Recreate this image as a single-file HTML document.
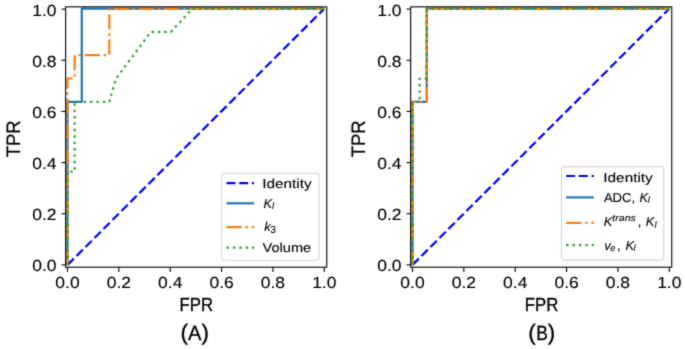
<!DOCTYPE html>
<html><head><meta charset="utf-8"><style>
html,body{margin:0;padding:0;background:#fff;}
svg{display:block;}
text{font-family:"Liberation Sans",sans-serif;fill:#000;text-rendering:geometricPrecision;stroke:#000;stroke-width:0.12px;}
.tk{font-size:16px;}
.lg{font-size:12.9px;}
.sub{font-size:9.2px;}
.sub3{font-size:10.2px;}
.sup{font-size:9.2px;}
.it{font-style:italic;}
.al{font-size:18.9px;stroke-width:0.35px;}
.al2{font-size:19.5px;stroke-width:0.25px;}
.pl{font-size:20.6px;stroke-width:0.3px;}
.pp{font-size:22.4px;stroke-width:0.3px;}
</style></head><body>
<svg width="685" height="349" viewBox="0 0 685 349">
<defs><filter id="bl" x="0" y="0" width="685" height="349" filterUnits="userSpaceOnUse" color-interpolation-filters="sRGB"><feConvolveMatrix order="3" kernelMatrix="0.0192 0.1001 0.0192 0.1001 0.5228 0.1001 0.0192 0.1001 0.0192" edgeMode="duplicate"/></filter></defs>
<g filter="url(#bl)">
<rect width="685" height="349" fill="#fff"/>
<g>
<path d="M67.50,264.90 L324.30,8.60" fill="none" stroke="#0000ff" stroke-width="2.2" stroke-dasharray="8.9 3.8" stroke-linejoin="round"/>
<path d="M67.50,264.90 L67.50,101.80 L81.78,101.80 L81.78,8.60 L324.30,8.60" fill="none" stroke="#1f77b4" stroke-width="2.2" stroke-linejoin="round"/>
<path d="M67.50,264.90 L67.50,78.50 L74.64,78.50 L74.64,55.20 L109.31,55.20 L109.31,8.60 L324.30,8.60" fill="none" stroke="#ff7f0e" stroke-width="2.2" stroke-dasharray="15.2 3.8 2.4 3.8" stroke-linejoin="round"/>
<path d="M67.50,264.90 L67.50,171.70 L74.64,171.70 L74.64,101.80 L109.31,101.80 L116.08,78.50 L150.79,31.90 L170.91,31.90 L192.43,8.60 L324.30,8.60" fill="none" stroke="#2ca02c" stroke-width="2.2" stroke-dasharray="2.4 4.0" stroke-linejoin="round"/>
<rect x="65.65" y="6.85" width="261.1" height="260.34999999999997" fill="none" stroke="#000" stroke-width="1.1"/>
<line x1="67.50" y1="267.2" x2="67.50" y2="271.9" stroke="#000" stroke-width="1.1"/>
<line x1="65.65" y1="264.90" x2="61.550000000000004" y2="264.90" stroke="#000" stroke-width="1.1"/>
<text x="67.50" y="287.9" text-anchor="middle" class="tk" textLength="24.3" lengthAdjust="spacingAndGlyphs">0.0</text>
<text x="56.55" y="271.30" text-anchor="end" class="tk" textLength="24.3" lengthAdjust="spacingAndGlyphs">0.0</text>
<line x1="118.86" y1="267.2" x2="118.86" y2="271.9" stroke="#000" stroke-width="1.1"/>
<line x1="65.65" y1="213.74" x2="61.550000000000004" y2="213.74" stroke="#000" stroke-width="1.1"/>
<text x="118.86" y="287.9" text-anchor="middle" class="tk" textLength="24.3" lengthAdjust="spacingAndGlyphs">0.2</text>
<text x="56.55" y="220.14" text-anchor="end" class="tk" textLength="24.3" lengthAdjust="spacingAndGlyphs">0.2</text>
<line x1="170.22" y1="267.2" x2="170.22" y2="271.9" stroke="#000" stroke-width="1.1"/>
<line x1="65.65" y1="162.58" x2="61.550000000000004" y2="162.58" stroke="#000" stroke-width="1.1"/>
<text x="170.22" y="287.9" text-anchor="middle" class="tk" textLength="24.3" lengthAdjust="spacingAndGlyphs">0.4</text>
<text x="56.55" y="168.98" text-anchor="end" class="tk" textLength="24.3" lengthAdjust="spacingAndGlyphs">0.4</text>
<line x1="221.58" y1="267.2" x2="221.58" y2="271.9" stroke="#000" stroke-width="1.1"/>
<line x1="65.65" y1="111.42" x2="61.550000000000004" y2="111.42" stroke="#000" stroke-width="1.1"/>
<text x="221.58" y="287.9" text-anchor="middle" class="tk" textLength="24.3" lengthAdjust="spacingAndGlyphs">0.6</text>
<text x="56.55" y="117.82" text-anchor="end" class="tk" textLength="24.3" lengthAdjust="spacingAndGlyphs">0.6</text>
<line x1="272.94" y1="267.2" x2="272.94" y2="271.9" stroke="#000" stroke-width="1.1"/>
<line x1="65.65" y1="60.26" x2="61.550000000000004" y2="60.26" stroke="#000" stroke-width="1.1"/>
<text x="272.94" y="287.9" text-anchor="middle" class="tk" textLength="24.3" lengthAdjust="spacingAndGlyphs">0.8</text>
<text x="56.55" y="66.66" text-anchor="end" class="tk" textLength="24.3" lengthAdjust="spacingAndGlyphs">0.8</text>
<line x1="324.30" y1="267.2" x2="324.30" y2="271.9" stroke="#000" stroke-width="1.1"/>
<line x1="65.65" y1="9.10" x2="61.550000000000004" y2="9.10" stroke="#000" stroke-width="1.1"/>
<text x="324.30" y="287.9" text-anchor="middle" class="tk" textLength="24.3" lengthAdjust="spacingAndGlyphs">1.0</text>
<text x="56.55" y="15.50" text-anchor="end" class="tk" textLength="24.3" lengthAdjust="spacingAndGlyphs">1.0</text>
</g>
<g>
<path d="M412.50,264.90 L669.30,8.60" fill="none" stroke="#0000ff" stroke-width="2.2" stroke-dasharray="8.9 3.8" stroke-linejoin="round"/>
<path d="M412.50,264.90 L412.50,101.80 L426.78,101.80 L426.78,8.60 L669.30,8.60" fill="none" stroke="#1f77b4" stroke-width="2.2" stroke-linejoin="round"/>
<path d="M412.50,264.90 L412.50,101.80 L426.78,101.80 L426.78,8.60 L669.30,8.60" fill="none" stroke="#ff7f0e" stroke-width="2.2" stroke-dasharray="15.2 3.8 2.4 3.8" stroke-linejoin="round"/>
<path d="M412.50,264.90 L412.50,101.80 L419.64,101.80 L419.64,78.50 L426.78,78.50 L426.78,8.60 L669.30,8.60" fill="none" stroke="#2ca02c" stroke-width="2.2" stroke-dasharray="2.4 4.0" stroke-linejoin="round"/>
<rect x="410.65" y="6.85" width="261.1" height="260.34999999999997" fill="none" stroke="#000" stroke-width="1.1"/>
<line x1="412.50" y1="267.2" x2="412.50" y2="271.9" stroke="#000" stroke-width="1.1"/>
<line x1="410.65" y1="264.90" x2="406.54999999999995" y2="264.90" stroke="#000" stroke-width="1.1"/>
<text x="412.50" y="287.9" text-anchor="middle" class="tk" textLength="24.3" lengthAdjust="spacingAndGlyphs">0.0</text>
<text x="401.55" y="271.30" text-anchor="end" class="tk" textLength="24.3" lengthAdjust="spacingAndGlyphs">0.0</text>
<line x1="463.86" y1="267.2" x2="463.86" y2="271.9" stroke="#000" stroke-width="1.1"/>
<line x1="410.65" y1="213.74" x2="406.54999999999995" y2="213.74" stroke="#000" stroke-width="1.1"/>
<text x="463.86" y="287.9" text-anchor="middle" class="tk" textLength="24.3" lengthAdjust="spacingAndGlyphs">0.2</text>
<text x="401.55" y="220.14" text-anchor="end" class="tk" textLength="24.3" lengthAdjust="spacingAndGlyphs">0.2</text>
<line x1="515.22" y1="267.2" x2="515.22" y2="271.9" stroke="#000" stroke-width="1.1"/>
<line x1="410.65" y1="162.58" x2="406.54999999999995" y2="162.58" stroke="#000" stroke-width="1.1"/>
<text x="515.22" y="287.9" text-anchor="middle" class="tk" textLength="24.3" lengthAdjust="spacingAndGlyphs">0.4</text>
<text x="401.55" y="168.98" text-anchor="end" class="tk" textLength="24.3" lengthAdjust="spacingAndGlyphs">0.4</text>
<line x1="566.58" y1="267.2" x2="566.58" y2="271.9" stroke="#000" stroke-width="1.1"/>
<line x1="410.65" y1="111.42" x2="406.54999999999995" y2="111.42" stroke="#000" stroke-width="1.1"/>
<text x="566.58" y="287.9" text-anchor="middle" class="tk" textLength="24.3" lengthAdjust="spacingAndGlyphs">0.6</text>
<text x="401.55" y="117.82" text-anchor="end" class="tk" textLength="24.3" lengthAdjust="spacingAndGlyphs">0.6</text>
<line x1="617.94" y1="267.2" x2="617.94" y2="271.9" stroke="#000" stroke-width="1.1"/>
<line x1="410.65" y1="60.26" x2="406.54999999999995" y2="60.26" stroke="#000" stroke-width="1.1"/>
<text x="617.94" y="287.9" text-anchor="middle" class="tk" textLength="24.3" lengthAdjust="spacingAndGlyphs">0.8</text>
<text x="401.55" y="66.66" text-anchor="end" class="tk" textLength="24.3" lengthAdjust="spacingAndGlyphs">0.8</text>
<line x1="669.30" y1="267.2" x2="669.30" y2="271.9" stroke="#000" stroke-width="1.1"/>
<line x1="410.65" y1="9.10" x2="406.54999999999995" y2="9.10" stroke="#000" stroke-width="1.1"/>
<text x="669.30" y="287.9" text-anchor="middle" class="tk" textLength="24.3" lengthAdjust="spacingAndGlyphs">1.0</text>
<text x="401.55" y="15.50" text-anchor="end" class="tk" textLength="24.3" lengthAdjust="spacingAndGlyphs">1.0</text>
</g>
<rect x="221.8" y="173.2" width="97.4" height="87.0" rx="2.5" fill="#fff" fill-opacity="0.8" stroke="#d6d6d6" stroke-width="1.1"/>
<line x1="226.5" y1="183.1" x2="254.0" y2="183.1" stroke="#0000ff" stroke-width="2.2" stroke-dasharray="8.9 3.8"/>
<line x1="226.5" y1="203.3" x2="254.0" y2="203.3" stroke="#1f77b4" stroke-width="2.2"/>
<line x1="226.5" y1="227.2" x2="254.0" y2="227.2" stroke="#ff7f0e" stroke-width="2.2" stroke-dasharray="15.2 3.8 2.4 3.8"/>
<line x1="226.5" y1="247.7" x2="254.0" y2="247.7" stroke="#2ca02c" stroke-width="2.2" stroke-dasharray="2.4 4.0"/>
<text x="262.2" y="187.7" class="lg" textLength="49.5" lengthAdjust="spacingAndGlyphs">Identity</text>
<text x="263.5" y="207.5" class="lg it">K</text><text x="272.0" y="209.2" class="sub it">l</text>
<text x="264.2" y="230.8" class="lg it">k</text><text x="270.3" y="233.0" class="sub3">3</text>
<text x="262.59999999999997" y="252.3" class="lg" textLength="48.6" lengthAdjust="spacingAndGlyphs">Volume</text>
<rect x="561.5" y="166.6" width="102.3" height="93.5" rx="2.5" fill="#fff" fill-opacity="0.8" stroke="#d6d6d6" stroke-width="1.1"/>
<line x1="566.2" y1="176.0" x2="593.8" y2="176.0" stroke="#0000ff" stroke-width="2.2" stroke-dasharray="8.9 3.8"/>
<line x1="566.2" y1="197.4" x2="593.8" y2="197.4" stroke="#1f77b4" stroke-width="2.2"/>
<line x1="566.2" y1="222.8" x2="593.8" y2="222.8" stroke="#ff7f0e" stroke-width="2.2" stroke-dasharray="15.2 3.8 2.4 3.8"/>
<line x1="566.2" y1="245.2" x2="593.8" y2="245.2" stroke="#2ca02c" stroke-width="2.2" stroke-dasharray="2.4 4.0"/>
<text x="603.3" y="181.5" class="lg" textLength="49.5" lengthAdjust="spacingAndGlyphs">Identity</text>
<text x="603.9" y="202.2" class="lg" textLength="31.2" lengthAdjust="spacingAndGlyphs">ADC,</text><text x="639.5999999999999" y="202.2" class="lg it">K</text><text x="647.8" y="203.2" class="sub it">l</text>
<text x="603.8" y="226.0" class="lg it">K</text><text x="612.3" y="220.9" class="sup it" textLength="23.6" lengthAdjust="spacingAndGlyphs">trans</text><text x="637.8" y="226.0" class="lg">,</text><text x="645.8" y="226.0" class="lg it">K</text><text x="654.5" y="227.6" class="sub it">l</text>
<text x="604.3" y="249.9" class="lg it">v</text><text x="610.3" y="251.2" class="sub it">e</text><text x="617.0999999999999" y="249.9" class="lg">,</text><text x="625.5" y="249.9" class="lg it">K</text><text x="633.5" y="251.2" class="sub it">l</text>
<text x="179.6" y="310.8" class="al" textLength="33.5" lengthAdjust="spacingAndGlyphs">FPR</text>
<text transform="translate(19.9,157.3) rotate(-90)" class="al2" textLength="37.0" lengthAdjust="spacingAndGlyphs">TPR</text>
<text x="180.5" y="339.7" class="pp">(</text><text x="187.9" y="340.0" class="pl" textLength="13.4" lengthAdjust="spacingAndGlyphs">A</text><text x="201.6" y="339.7" class="pp">)</text>
<text x="524.8" y="310.8" class="al" textLength="33.5" lengthAdjust="spacingAndGlyphs">FPR</text>
<text transform="translate(365.4,157.3) rotate(-90)" class="al2" textLength="37.0" lengthAdjust="spacingAndGlyphs">TPR</text>
<text x="528.3" y="339.7" class="pp">(</text><text x="536.2" y="340.0" class="pl" textLength="11.6" lengthAdjust="spacingAndGlyphs">B</text><text x="547.8" y="339.7" class="pp">)</text>
</g>
</svg>
</body></html>
